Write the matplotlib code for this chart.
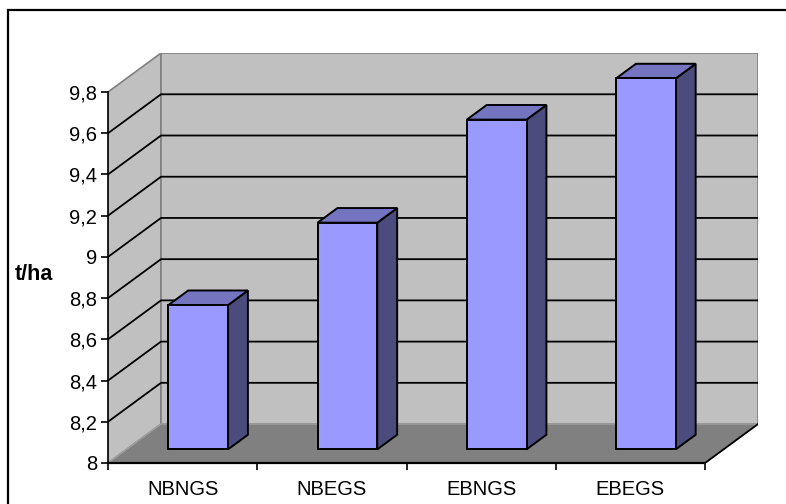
import numpy as np
import matplotlib
matplotlib.use('Agg')
from matplotlib import pyplot as plt
from matplotlib.patches import Polygon, Rectangle

plt.rcParams['font.family'] = ['Liberation Sans', 'DejaVu Sans']

categories = ['NBNGS', 'NBEGS', 'EBNGS', 'EBEGS']
values = [8.7, 9.1, 9.6, 9.8]
y_ticks = [8.0, 8.2, 8.4, 8.6, 8.8, 9.0, 9.2, 9.4, 9.6, 9.8]
y_tick_labels = ['8', '8,2', '8,4', '8,6', '8,8', '9', '9,2', '9,4', '9,6', '9,8']
y_label = 't/ha'

# 3d look, in data units
ymin, ymax = 8.0, 9.8
DX, DY = 0.355, 0.189          # depth of the wall box
f0, f1 = 0.35, 0.725           # bar front / back depth fraction
bar_left, bar_w = 0.28, 0.40

W, H = 786, 504
px_cat = 149.25
px_val = 206.1
x0_px, y0_px = 108, 463

fig = plt.figure(figsize=(W / 100, H / 100), dpi=100)
ax_w = (len(categories) + DX) * px_cat / W
ax_h = (ymax - ymin + DY) * px_val / H
ax = fig.add_axes([x0_px / W, (H - y0_px) / H, ax_w, ax_h])
ax.set_xlim(0, len(categories) + DX)
ax.set_ylim(ymin, ymax + DY)
ax.patch.set_visible(False)

n = len(categories)
wall_c = '#c0c0c0'
edge_c = '#808080'

# side wall, back wall, floor
ax.add_patch(Polygon([(0, ymin), (DX, ymin + DY), (DX, ymax + DY), (0, ymax)],
                     closed=True, fc=wall_c, ec=edge_c, lw=1.2, zorder=1))
ax.add_patch(Polygon([(DX, ymin + DY), (n + DX, ymin + DY), (n + DX, ymax + DY), (DX, ymax + DY)],
                     closed=True, fc=wall_c, ec=edge_c, lw=1.2, zorder=1))
ax.add_patch(Polygon([(0, ymin), (n, ymin), (n + DX, ymin + DY), (DX, ymin + DY)],
                     closed=True, fc='#808080', ec='#a0a0a0', lw=1.0, zorder=2))
ax.plot([n, n + DX], [ymin, ymin + DY], color='k', lw=1.3, zorder=3)

# gridlines
for v in y_ticks[1:-1]:
    ax.plot([0, DX, n + DX], [v, v + DY, v + DY], color='k', lw=1.3, zorder=2)

# bars
front_c = '#9999ff'
side_c = '#4b4b7e'
top_c = '#7474c0'
ddx = (f1 - f0) * DX
ddy = (f1 - f0) * DY
for i, v in enumerate(values):
    xl = i + bar_left + f0 * DX
    xr = xl + bar_w
    yb = ymin + f0 * DY
    yt = yb + (v - ymin)
    ax.add_patch(Polygon([(xr, yb), (xr + ddx, yb + ddy), (xr + ddx, yt + ddy), (xr, yt)],
                         closed=True, fc=side_c, ec='k', lw=1.4, zorder=4))
    ax.add_patch(Polygon([(xl, yt), (xr, yt), (xr + ddx, yt + ddy), (xl + ddx, yt + ddy)],
                         closed=True, fc=top_c, ec='k', lw=1.4, zorder=4))
    ax.add_patch(Polygon([(xl, yb), (xr, yb), (xr, yt), (xl, yt)],
                         closed=True, fc=front_c, ec='k', lw=1.4, zorder=5))

# axes
for s in ['top', 'right']:
    ax.spines[s].set_visible(False)
ax.spines['left'].set_bounds(ymin, ymax)
ax.spines['bottom'].set_bounds(0, n)
ax.spines['left'].set_linewidth(1.2)
ax.spines['bottom'].set_linewidth(1.6)
ax.spines['left'].set_zorder(6)
ax.spines['bottom'].set_zorder(6)

ax.set_yticks(y_ticks)
ax.set_yticklabels(y_tick_labels, fontsize=14.5)
ax.tick_params(axis='y', direction='out', length=5, width=1.2, pad=3)

ax.set_xticks(np.arange(n + 1))
ax.set_xticklabels([])
ax.set_xticks(np.arange(n) + 0.5, minor=True)
ax.set_xticklabels(categories, minor=True, fontsize=14.5)
ax.tick_params(axis='x', which='major', direction='out', length=5, width=1.2)
ax.tick_params(axis='x', which='minor', length=0, pad=12)

fig.text(15 / W, 1 - 275 / H, y_label, fontsize=15.5, fontweight='bold', va='center', ha='left')

# chart border (right/bottom edges fall outside the picture)
fig.patches.append(Rectangle((8 / W, -0.1), 1.2, 1 - 10 / H + 0.1, transform=fig.transFigure,
                             fill=False, ec='k', lw=1.6))

fig.savefig('out.png', dpi=100)
